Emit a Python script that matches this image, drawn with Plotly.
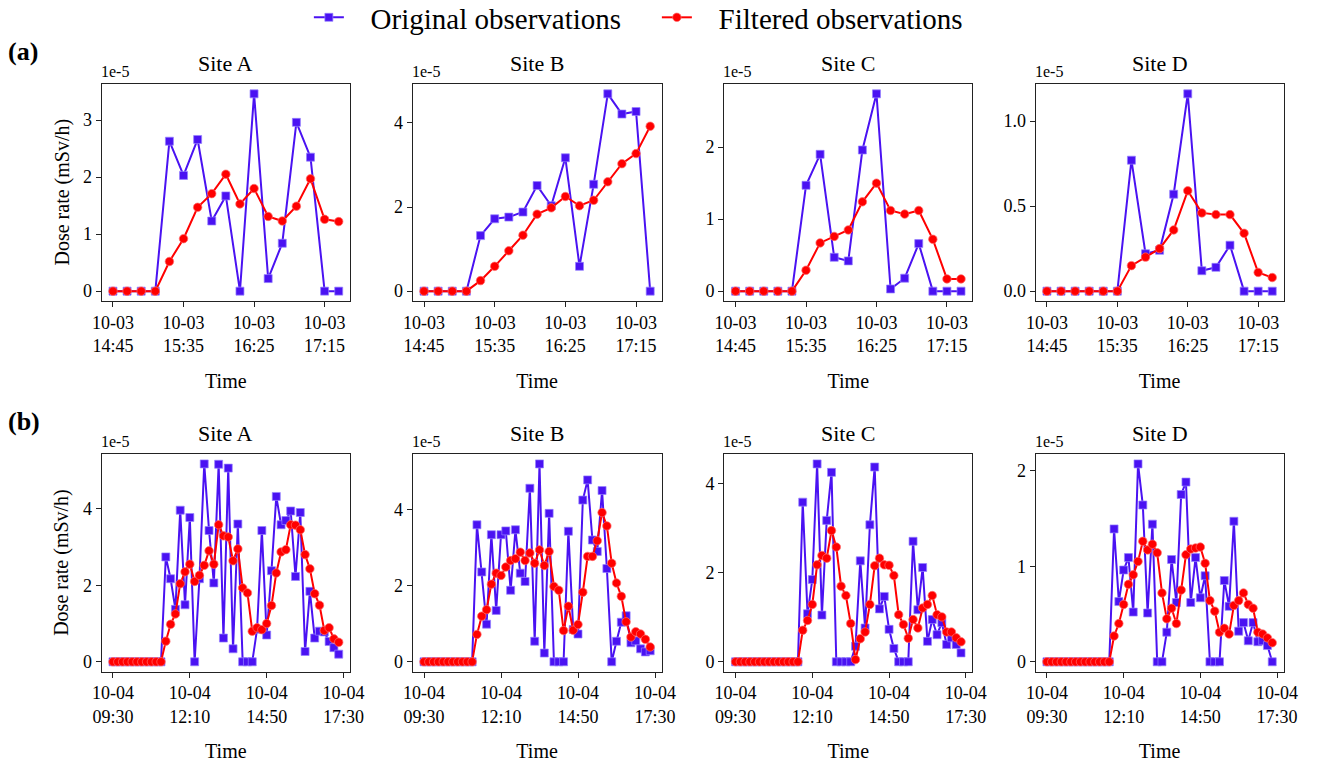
import pandas as pd
import plotly.graph_objects as go

# ---------------- data (values in units of 1e-5 mSv/h) ----------------
sites = ["Site A", "Site B", "Site C", "Site D"]
series_names = ["Original observations", "Filtered observations"]

# Row (a): 2023-10-03, every 10 min from 14:45
a_start = "2023-10-03 14:45"
a_orig_A = [0, 0, 0, 0, 2.63, 2.03, 2.66, 1.23, 1.67, 0, 3.46, 0.22, 0.84, 2.96, 2.35, 0, 0]
a_filt_A = [0, 0, 0, 0, 0.52, 0.92, 1.47, 1.71, 2.05, 1.53, 1.80, 1.31, 1.23, 1.49, 1.97, 1.26, 1.22]
a_orig_B = [0, 0, 0, 0, 1.32, 1.72, 1.76, 1.88, 2.51, 2.03, 3.17, 0.59, 2.54, 4.69, 4.21, 4.27, 0]
a_filt_B = [0, 0, 0, 0, 0.25, 0.59, 0.96, 1.33, 1.83, 1.98, 2.25, 2.03, 2.16, 2.60, 3.03, 3.27, 3.92]
a_orig_C = [0, 0, 0, 0, 0, 1.47, 1.90, 0.47, 0.42, 1.96, 2.74, 0.03, 0.18, 0.66, 0, 0, 0]
a_filt_C = [0, 0, 0, 0, 0, 0.29, 0.67, 0.76, 0.85, 1.24, 1.50, 1.12, 1.07, 1.12, 0.72, 0.17, 0.17]
a_orig_D = [0, 0, 0, 0, 0, 0, 0.77, 0.22, 0.24, 0.57, 1.16, 0.12, 0.14, 0.27, 0, 0, 0]
a_filt_D = [0, 0, 0, 0, 0, 0, 0.15, 0.20, 0.25, 0.36, 0.59, 0.46, 0.45, 0.45, 0.34, 0.11, 0.08]

# Row (b): 2023-10-04, every 10 min from 09:30
b_start = "2023-10-04 09:30"
b_orig_A = [0] * 11 + [2.74, 2.17, 1.37, 3.96, 1.49, 3.77, 0, 2.17, 5.17, 3.43, 2.06, 5.16, 0.62, 5.06,
                       0.34, 3.60, 0, 0, 0, 0.85, 3.43, 0.70, 2.38, 4.32, 3.58, 3.69, 3.94, 2.23, 3.90,
                       0.27, 1.84, 0.62, 0.80, 0.78, 0.53, 0.37, 0.20]
b_filt_A = [0] * 11 + [0.54, 0.98, 1.25, 2.04, 2.35, 2.55, 2.10, 2.26, 2.52, 2.90, 2.55, 3.58, 3.29, 3.26,
                       2.64, 2.95, 1.93, 1.80, 0.80, 0.89, 0.84, 1.00, 1.47, 2.32, 2.87, 2.93, 3.58, 3.57,
                       3.45, 2.80, 2.43, 1.78, 1.48, 0.82, 0.89, 0.60, 0.51]
b_orig_B = [0] * 11 + [3.60, 2.36, 0.99, 3.34, 1.35, 3.34, 3.44, 1.88, 3.47, 2.33, 2.11, 4.56, 0.54, 5.20,
                       0.23, 3.90, 0, 0, 0, 3.43, 0.85, 0.73, 4.25, 4.78, 3.20, 2.90, 4.50, 2.45, 0,
                       0.54, 1.04, 1.21, 0.50, 0.55, 0.34, 0.26, 0.29]
b_filt_B = [0] * 11 + [0.72, 1.20, 1.37, 2.04, 2.33, 2.27, 2.49, 2.66, 2.71, 2.88, 2.66, 2.86, 2.59, 2.94,
                       2.53, 2.90, 1.98, 1.88, 0.82, 1.46, 0.83, 0.98, 1.83, 2.77, 2.77, 3.18, 3.92, 3.57,
                       2.59, 2.07, 1.72, 1.05, 0.65, 0.79, 0.73, 0.59, 0.39]
b_orig_C = [0] * 14 + [3.59, 1.08, 1.85, 4.45, 1.05, 3.18, 4.26, 0, 0, 0, 0, 0.35, 2.27, 0.76, 3.08, 4.38,
                       1.19, 1.47, 0.73, 0.30, 0, 0, 0, 2.71, 1.17, 2.12, 0.46, 0.95, 0.61, 0.88, 0.39,
                       0.54, 0.39, 0.20]
b_filt_C = [0] * 14 + [0.71, 0.93, 1.29, 2.18, 2.39, 2.33, 2.95, 2.58, 1.70, 1.49, 0.86, 0.05, 0.52, 0.67,
                       1.29, 2.16, 2.33, 2.18, 2.17, 1.94, 1.06, 0.84, 0.53, 0.95, 0.76, 1.21, 1.29, 1.49,
                       1.06, 1.01, 0.67, 0.67, 0.54, 0.45]
b_orig_D = [0] * 14 + [1.39, 0.63, 0.96, 1.09, 0.52, 2.07, 1.64, 0.51, 1.44, 0, 0, 0.31, 1.07, 0.62, 1.75,
                       1.88, 0.62, 1.09, 0.67, 0.90, 0, 0, 0, 0.85, 0.58, 1.47, 0.32, 0.41, 0.22, 0.41,
                       0.21, 0.22, 0.17, 0]
b_filt_D = [0] * 14 + [0.27, 0.40, 0.60, 0.81, 0.91, 1.05, 1.26, 1.17, 1.23, 1.14, 0.72, 0.45, 0.56, 0.40,
                       0.75, 1.12, 1.18, 1.19, 1.20, 1.03, 0.64, 0.53, 0.31, 0.35, 0.29, 0.59, 0.64, 0.72,
                       0.60, 0.56, 0.31, 0.29, 0.25, 0.20]

# tick labels
a_tickvals = ["2023-10-03 14:45", "2023-10-03 15:35", "2023-10-03 16:25", "2023-10-03 17:15"]
a_ticktext = ["10-03<br>14:45", "10-03<br>15:35", "10-03<br>16:25", "10-03<br>17:15"]
b_tickvals = ["2023-10-04 09:30", "2023-10-04 12:10", "2023-10-04 14:50", "2023-10-04 17:30"]
b_ticktext = ["10-04<br>09:30", "10-04<br>12:10", "10-04<br>14:50", "10-04<br>17:30"]
a_ydtick = [1, 2, 1, 0.5]
a_yfmt = ["d", "d", "d", ".1f"]
b_ydtick = [2, 2, 2, 1]
b_yfmt = ["d", "d", "d", "d"]

# ---------------- styling ----------------
W, H = 1323, 765
FONT = "Liberation Serif"
BLUE = "#4a12f2"
RED = "#ff0000"
col_x = [(101.7, 350.0), (412.7, 661.5), (724.3, 972.3), (1035.7, 1283.5)]
row_y = [(84.0, 301.0), (454.0, 671.7)]
GAP = "\u00a0\u00a0\u00a0"  # spacing between legend handle and label

rows = [
    dict(start=a_start, orig=[a_orig_A, a_orig_B, a_orig_C, a_orig_D],
         filt=[a_filt_A, a_filt_B, a_filt_C, a_filt_D],
         tv=a_tickvals, tt=a_ticktext, dt=a_ydtick, fmt=a_yfmt),
    dict(start=b_start, orig=[b_orig_A, b_orig_B, b_orig_C, b_orig_D],
         filt=[b_filt_A, b_filt_B, b_filt_C, b_filt_D],
         tv=b_tickvals, tt=b_ticktext, dt=b_ydtick, fmt=b_yfmt),
]

fig = go.Figure()
layout = dict(width=W, height=H, margin=dict(l=0, r=0, t=0, b=0, autoexpand=False),
              paper_bgcolor="white", plot_bgcolor="white",
              font=dict(family=FONT, size=18, color="black"),
              showlegend=True,
              legend=dict(orientation="h", x=0.4965, xanchor="center", y=1.0105, yanchor="top",
                          font=dict(size=29, family=FONT), bgcolor="rgba(0,0,0,0)",
                          entrywidth=303, entrywidthmode="pixels", tracegroupgap=0))
annotations = []

idx = 0
for r, row in enumerate(rows):
    n = len(row["orig"][0])
    times = pd.date_range(row["start"], periods=n, freq="10min")
    span = times[-1] - times[0]
    xr = [times[0] - 0.05 * span, times[-1] + 0.05 * span]
    y0p, y1p = row_y[r]
    for c in range(4):
        idx += 1
        xa = "x" if idx == 1 else f"x{idx}"
        ya = "y" if idx == 1 else f"y{idx}"
        orig = row["orig"][c]
        filt = row["filt"][c]
        fig.add_trace(go.Scatter(
            x=times, y=orig, xaxis=xa, yaxis=ya, mode="lines+markers",
            name=GAP + series_names[0], showlegend=(idx == 1),
            line=dict(color=BLUE, width=2),
            marker=dict(symbol="square", size=8, color=BLUE,
                        line=dict(color="rgba(150,130,255,0.7)", width=1))))
        fig.add_trace(go.Scatter(
            x=times, y=filt, xaxis=xa, yaxis=ya, mode="lines+markers",
            name=GAP + series_names[1], showlegend=(idx == 1),
            line=dict(color=RED, width=2),
            marker=dict(symbol="circle", size=8.5, color=RED,
                        line=dict(color="rgba(255,110,110,0.7)", width=1))))
        vals = orig + filt
        lo, hi = min(vals), max(vals)
        pad = 0.05 * (hi - lo)
        x0p, x1p = col_x[c]
        axcommon = dict(showline=True, mirror=True, linecolor="#222", linewidth=1.3,
                        ticks="outside", ticklen=5, tickwidth=1.2, tickcolor="#222",
                        showgrid=False, zeroline=False, automargin=False,
                        tickfont=dict(family=FONT, size=18, color="black"))
        layout["xaxis" if idx == 1 else f"xaxis{idx}"] = dict(
            domain=[x0p / W, x1p / W], anchor=ya, range=xr, type="date",
            tickmode="array", tickvals=row["tv"], ticktext=row["tt"],
            title=dict(text="Time", font=dict(family=FONT, size=20), standoff=18),
            **axcommon)
        layout["yaxis" if idx == 1 else f"yaxis{idx}"] = dict(
            domain=[1 - y1p / H, 1 - y0p / H], anchor=xa, range=[lo - pad, hi + pad],
            tick0=0, dtick=row["dt"][c], tickformat=row["fmt"][c],
            **axcommon)
        # panel title
        annotations.append(dict(text=sites[c], x=(x0p + x1p) / 2 / W, y=1 - (y0p - 6) / H,
                                xref="paper", yref="paper", xanchor="center", yanchor="bottom",
                                showarrow=False, font=dict(family=FONT, size=22)))
        # offset text
        annotations.append(dict(text="1e-5", x=(x0p - 3) / W, y=1 - (y0p - 2) / H,
                                xref="paper", yref="paper", xanchor="left", yanchor="bottom",
                                showarrow=False, font=dict(family=FONT, size=16)))
    # y label
    annotations.append(dict(text="Dose rate (mSv/h)", x=62 / W, y=1 - (y0p + y1p) / 2 / H,
                            xref="paper", yref="paper", xanchor="center", yanchor="middle",
                            textangle=-90, showarrow=False, font=dict(family=FONT, size=20)))

annotations.append(dict(text="<b>(a)</b>", x=6 / W, y=1 - 52 / H, xref="paper", yref="paper",
                        xanchor="left", yanchor="middle", showarrow=False,
                        font=dict(family=FONT, size=26)))
annotations.append(dict(text="<b>(b)</b>", x=6 / W, y=1 - 421 / H, xref="paper", yref="paper",
                        xanchor="left", yanchor="middle", showarrow=False,
                        font=dict(family=FONT, size=26)))
layout["annotations"] = annotations
fig.update_layout(**layout)
fig.write_html("out.html")
